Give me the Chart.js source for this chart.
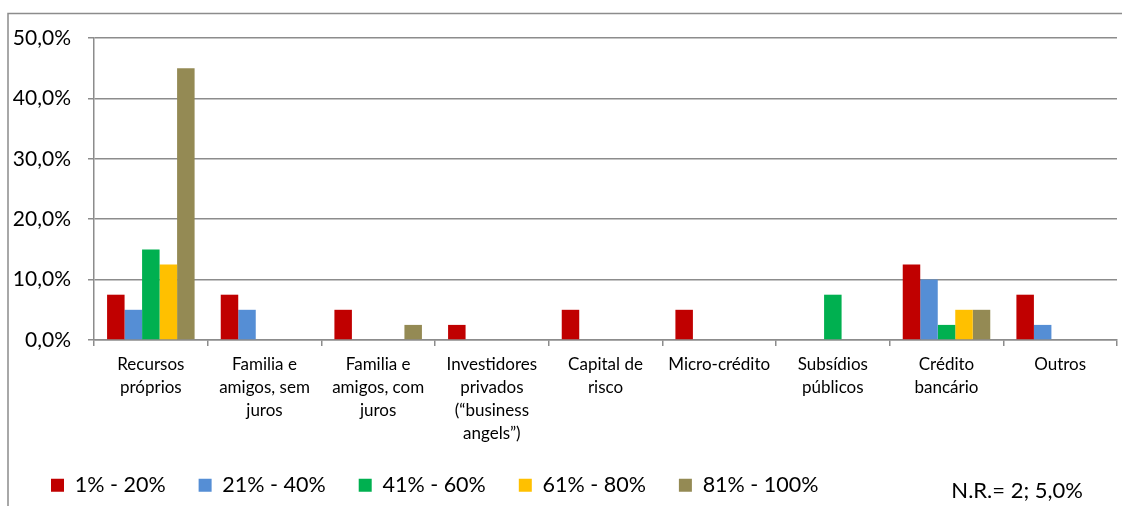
<!DOCTYPE html>
<html>
<head>
<meta charset="utf-8">
<script src="https://cdn.jsdelivr.net/npm/chart.js@4.4.1/dist/chart.umd.min.js"></script>
<style>
  html, body { margin: 0; padding: 0; background: #ffffff; }
  #wrap { position: relative; width: 1122px; height: 506px; }
</style>
</head>
<body>
<div id="wrap"><canvas id="chart" width="1122" height="506"></canvas></div>
<script>
// Funding sources and share of respondents by financing band
const categories = [
  ['Recursos', 'próprios'],
  ['Familia e', 'amigos, sem', 'juros'],
  ['Familia e', 'amigos, com', 'juros'],
  ['Investidores', 'privados', '(“business', 'angels”)'],
  ['Capital de', 'risco'],
  ['Micro-crédito'],
  ['Subsídios', 'públicos'],
  ['Crédito', 'bancário'],
  ['Outros']
];
const seriesNames = ['1% - 20%', '21% - 40%', '41% - 60%', '61% - 80%', '81% - 100%'];
const band1to20   = [7.5, 7.5, 5.0, 2.5, 5.0, 5.0, 0.0, 12.5, 7.5];
const band21to40  = [5.0, 5.0, 0.0, 0.0, 0.0, 0.0, 0.0, 10.0, 2.5];
const band41to60  = [15.0, 0.0, 0.0, 0.0, 0.0, 0.0, 7.5, 2.5, 0.0];
const band61to80  = [12.5, 0.0, 0.0, 0.0, 0.0, 0.0, 0.0, 5.0, 0.0];
const band81to100 = [45.0, 0.0, 2.5, 0.0, 0.0, 0.0, 0.0, 5.0, 0.0];
const yTicks = [0, 10, 20, 30, 40, 50];
const noteText = 'N.R.= 2; 5,0%';

const seriesColors = ['#C00000', '#558ED5', '#00B050', '#FFC000', '#948A54'];
const seriesData = [band1to20, band21to40, band41to60, band61to80, band81to100];

const FONT = 'Lato, "Open Sans", sans-serif';
const GRID = '#8c8c8c';
const PLOT_BOTTOM = 340;
const PAD_BOTTOM = 0;

// Outer frame (top and left edges) and the non-response note
const framePlugin = {
  id: 'frame',
  beforeDraw(chart) {
    const ctx = chart.ctx;
    ctx.save();
    ctx.strokeStyle = '#8c8c8c';
    ctx.lineWidth = 1.5;
    ctx.beginPath();
    ctx.moveTo(8, 506);
    ctx.lineTo(8, 13.5);
    ctx.lineTo(1122, 13.5);
    ctx.stroke();
    ctx.restore();
  },
  afterDraw(chart) {
    const ctx = chart.ctx;
    ctx.save();
    ctx.fillStyle = '#000000';
    ctx.font = '22px ' + FONT;
    ctx.textAlign = 'right';
    ctx.textBaseline = 'middle';
    ctx.fillText(noteText, 1083, 491);
    ctx.restore();
  }
};

new Chart(document.getElementById('chart'), {
  type: 'bar',
  data: {
    labels: categories,
    datasets: seriesNames.map((name, i) => ({
      label: name,
      data: seriesData[i],
      backgroundColor: seriesColors[i],
      borderWidth: 0,
      barPercentage: 1.0,
      categoryPercentage: 0.77
    }))
  },
  options: {
    responsive: false,
    animation: false,
    layout: { padding: { left: 18, right: 5, top: 38, bottom: PAD_BOTTOM } },
    plugins: {
      legend: {
        position: 'bottom',
        align: 'start',
        labels: {
          boxWidth: 13,
          boxHeight: 13,
          padding: 33,
          color: '#000000',
          font: { family: FONT, size: 21.5 }
        }
      },
      tooltip: { enabled: false }
    },
    scales: {
      x: {
        offset: true,
        grid: {
          offset: true,
          drawOnChartArea: false,
          drawTicks: true,
          tickLength: 6,
          color: GRID,
          lineWidth: 1.5
        },
        border: { color: GRID, width: 1.5 },
        ticks: {
          autoSkip: false,
          maxRotation: 0,
          minRotation: 0,
          padding: 7,
          color: '#000000',
          font: { family: FONT, size: 17, lineHeight: 1.35 }
        },
        afterFit(scale) {
          const legendH = scale.chart.legend ? scale.chart.legend.height : 0;
          scale.height = 506 - PLOT_BOTTOM - PAD_BOTTOM - legendH;
          // let the four-line category label run past the axis box
          scale._computeLabelArea = () => undefined;
        }
      },
      y: {
        min: 0,
        max: 50,
        afterBuildTicks(scale) {
          scale.ticks = yTicks.map(v => ({ value: v }));
        },
        grid: {
          color: GRID,
          lineWidth: 1.5,
          drawTicks: true,
          tickLength: 6
        },
        border: { color: GRID, width: 1.5 },
        ticks: {
          padding: 17,
          color: '#000000',
          font: { family: FONT, size: 21 },
          callback: v => v.toFixed(1).replace('.', ',') + '%'
        },
        afterFit(scale) {
          scale.width = 76;
          // percentage labels sit partly in the left margin
          scale._computeLabelArea = () => undefined;
        }
      }
    }
  },
  plugins: [framePlugin]
});
</script>
</body>
</html>
